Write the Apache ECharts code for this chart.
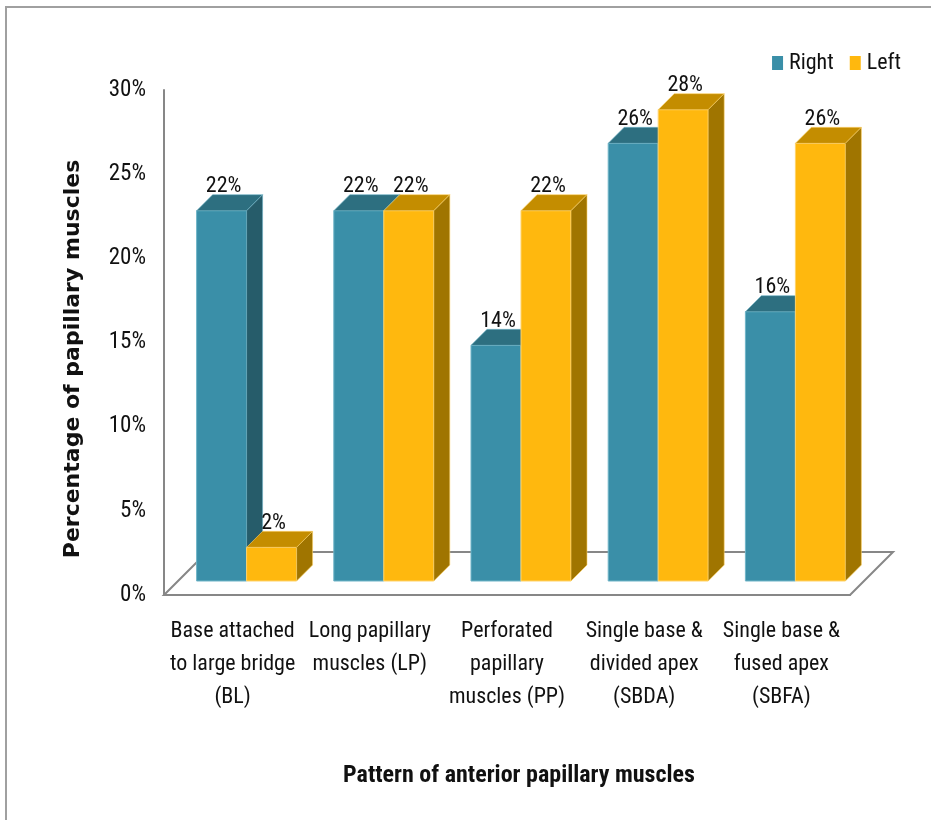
<!DOCTYPE html>
<html>
<head>
<meta charset="utf-8">
<script src="https://cdn.jsdelivr.net/npm/echarts@6/dist/echarts.min.js"></script>
<style>
  html, body { margin: 0; padding: 0; background: #ffffff; }
  #chart { width: 931px; height: 820px; }
</style>
</head>
<body>
<div id="chart"></div>
<script>
// Pattern categories (x axis)
const categories = [
  'Base attached\nto large bridge\n(BL)',
  'Long papillary\nmuscles (LP)',
  'Perforated\npapillary\nmuscles (PP)',
  'Single base &\ndivided apex\n(SBDA)',
  'Single base &\nfused apex\n(SBFA)'
];
// Percentage of papillary muscles per side
const rightValues = [22, 22, 14, 26, 16];
const leftValues = [2, 22, 22, 28, 26];
const seriesNames = ['Right', 'Left'];
// Value axis range (percent)
const yMin = 0, yMax = 30, yStep = 5;

// 3D look: pixel offsets of the oblique projection
const FRONT_DEPTH = 14;   // bar front plane behind the floor front edge
const BAR_DEPTH = 16;     // bar thickness
const FLOOR_DEPTH = 43;   // floor depth
const BAR_WIDTH = 50;

const FONT = '"Liberation Sans Narrow", "Arial Narrow", "Roboto Condensed", sans-serif';

const palettes = {
  Right: { front: '#3a8fa8', top: '#2d6f80', side: '#265c6a', edge: '#6fb4c7' },
  Left:  { front: '#ffb80e', top: '#c48d00', side: '#a07500', edge: '#ffd36a' }
};

function makeBarRenderer(sideIndex, pal) {
  return function (params, api) {
    const cat = api.value(0);
    const v = api.value(1);
    const base = api.coord([cat, 0]);
    const top = api.coord([cat, v]);
    const cx = base[0] + FRONT_DEPTH;
    const x0 = sideIndex === 0 ? cx - BAR_WIDTH : cx;
    const x1 = x0 + BAR_WIDTH;
    const by = base[1] - FRONT_DEPTH;
    const ty = top[1] - FRONT_DEPTH;
    const d = BAR_DEPTH;
    return {
      type: 'group',
      children: [
        {
          type: 'polygon',
          shape: { points: [[x0, ty], [x1, ty], [x1, by], [x0, by]] },
          style: { fill: pal.front, stroke: pal.edge, lineWidth: 1 }
        },
        {
          type: 'polygon',
          shape: { points: [[x0, ty], [x1, ty], [x1 + d, ty - d], [x0 + d, ty - d]] },
          style: { fill: pal.top, stroke: pal.edge, lineWidth: 0.6 }
        },
        {
          type: 'polygon',
          shape: { points: [[x1, ty], [x1 + d, ty - d], [x1 + d, by - d], [x1, by]] },
          style: { fill: pal.side, stroke: pal.edge, lineWidth: 0.6 }
        },
        {
          type: 'text',
          x: (x0 + x1) / 2 + 2,
          y: ty - d + 3,
          style: {
            text: v + '%',
            font: '22px ' + FONT,
            fill: '#111111',
            textAlign: 'center',
            textVerticalAlign: 'bottom'
          }
        }
      ]
    };
  };
}

function renderFloor(params, api) {
  const cs = params.coordSys;
  const xl = cs.x, xr = cs.x + cs.width, yb = cs.y + cs.height;
  const D = FLOOR_DEPTH;
  return {
    type: 'polygon',
    shape: { points: [[xl, yb], [xl + D, yb - D], [xr + D, yb - D], [xr, yb]] },
    style: { fill: 'none', stroke: '#878787', lineWidth: 2 }
  };
}

const chart = echarts.init(document.getElementById('chart'), null, { renderer: 'canvas' });

chart.setOption({
  animation: false,
  backgroundColor: '#ffffff',
  grid: { left: 164, right: 81, top: 90, bottom: 225, containLabel: false },
  legend: {
    data: seriesNames,
    right: 25,
    top: 47,
    icon: 'rect',
    itemWidth: 11,
    itemHeight: 14,
    itemGap: 16,
    textStyle: { fontFamily: FONT, fontSize: 22, color: '#111111', padding: [0, 0, 0, 1] }
  },
  xAxis: {
    type: 'category',
    data: categories,
    axisLine: { show: true, lineStyle: { color: '#878787', width: 2 } },
    axisTick: { show: false },
    splitLine: { show: false },
    axisLabel: {
      interval: 0,
      margin: 20,
      fontFamily: FONT,
      fontSize: 22,
      lineHeight: 33,
      color: '#111111'
    }
  },
  yAxis: {
    type: 'value',
    min: yMin,
    max: yMax,
    interval: yStep,
    axisLine: { show: true, lineStyle: { color: '#878787', width: 2 } },
    axisTick: { show: false },
    splitLine: { show: false },
    axisLabel: {
      margin: 18,
      formatter: '{value}%',
      fontFamily: FONT,
      fontSize: 23,
      color: '#111111'
    }
  },
  graphic: [
    {
      type: 'rect',
      shape: { x: 6, y: 7, width: 1000, height: 900 },
      style: { fill: 'none', stroke: '#a0a0a0', lineWidth: 2 },
      silent: true
    },
    {
      type: 'text',
      x: 73,
      y: 359,
      rotation: Math.PI / 2,
      style: {
        text: 'Percentage of papillary muscles',
        font: 'bold 22px "DejaVu Sans", Verdana, sans-serif',
        fill: '#111111',
        textAlign: 'center',
        textVerticalAlign: 'middle'
      }
    },
    {
      type: 'text',
      x: 519,
      y: 776,
      style: {
        text: 'Pattern of anterior papillary muscles',
        font: 'bold 24px ' + FONT,
        fill: '#111111',
        textAlign: 'center',
        textVerticalAlign: 'middle'
      }
    }
  ],
  series: [
    {
      name: 'floor',
      type: 'custom',
      renderItem: renderFloor,
      data: [[0, 0]],
      silent: true,
      z: 1
    },
    {
      name: 'Right',
      type: 'custom',
      itemStyle: { color: palettes.Right.front },
      renderItem: makeBarRenderer(0, palettes.Right),
      data: rightValues.map((v, i) => [i, v]),
      encode: { x: 0, y: 1 },
      z: 2
    },
    {
      name: 'Left',
      type: 'custom',
      itemStyle: { color: palettes.Left.front },
      renderItem: makeBarRenderer(1, palettes.Left),
      data: leftValues.map((v, i) => [i, v]),
      encode: { x: 0, y: 1 },
      z: 3
    }
  ]
});
</script>
</body>
</html>
